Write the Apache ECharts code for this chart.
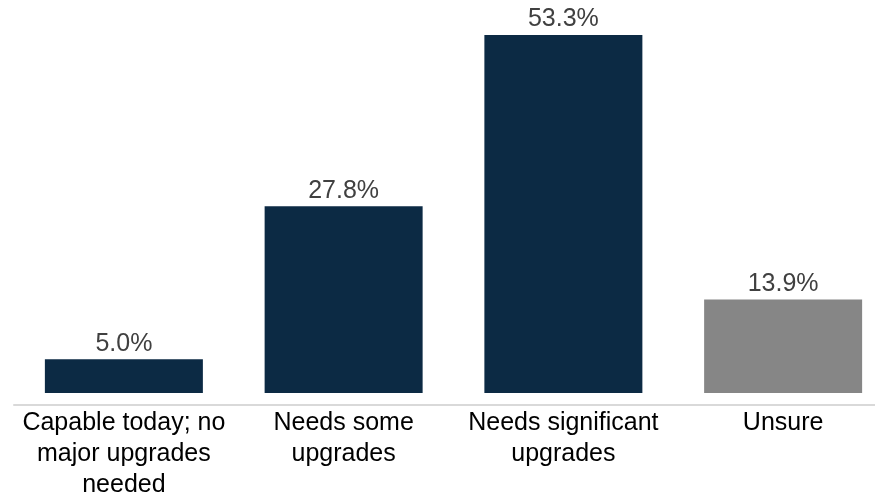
<!DOCTYPE html>
<html><head><meta charset="utf-8">
<script src="https://cdn.jsdelivr.net/npm/echarts@6/dist/echarts.min.js"></script>
<style>html,body{margin:0;padding:0;background:#fff}#c{width:875px;height:499px}</style>
</head><body><div id="c"></div>
<script>
const categories = ["Capable today; no\nmajor upgrades\nneeded", "Needs some\nupgrades", "Needs significant\nupgrades", "Unsure"];
const values = [5.0, 27.8, 53.3, 13.9];
const barColors = ["#0c2a44", "#0c2a44", "#0c2a44", "#868686"];

const chart = echarts.init(document.getElementById('c'), null, {renderer: 'canvas'});
chart.setOption({
  animation: false,
  grid: {left: 14, width: 879, top: 35, bottom: 94, containLabel: false, outerBoundsMode: 'none'},
  xAxis: {
    type: 'category', data: categories,
    axisLine: {onZero: false, lineStyle: {color: '#d9d9d9', width: 2}},
    axisTick: {show: false},
    axisLabel: {color: '#000', fontFamily: 'Liberation Sans, Arial, sans-serif', fontSize: 25, lineHeight: 31, margin: 3, interval: 0}
  },
  yAxis: {type: 'value', min: -1.8, max: 53.3, show: false, splitLine: {show: false}},
  series: [{
    type: 'bar', barWidth: 158,
    data: values.map((v, i) => ({value: v, itemStyle: {color: barColors[i]}})),
    label: {show: true, position: 'top', distance: 3, color: '#404040', fontFamily: 'Liberation Sans, Arial, sans-serif', fontSize: 25,
      formatter: p => p.value.toFixed(1) + '%'}
  }]
});
</script></body></html>
